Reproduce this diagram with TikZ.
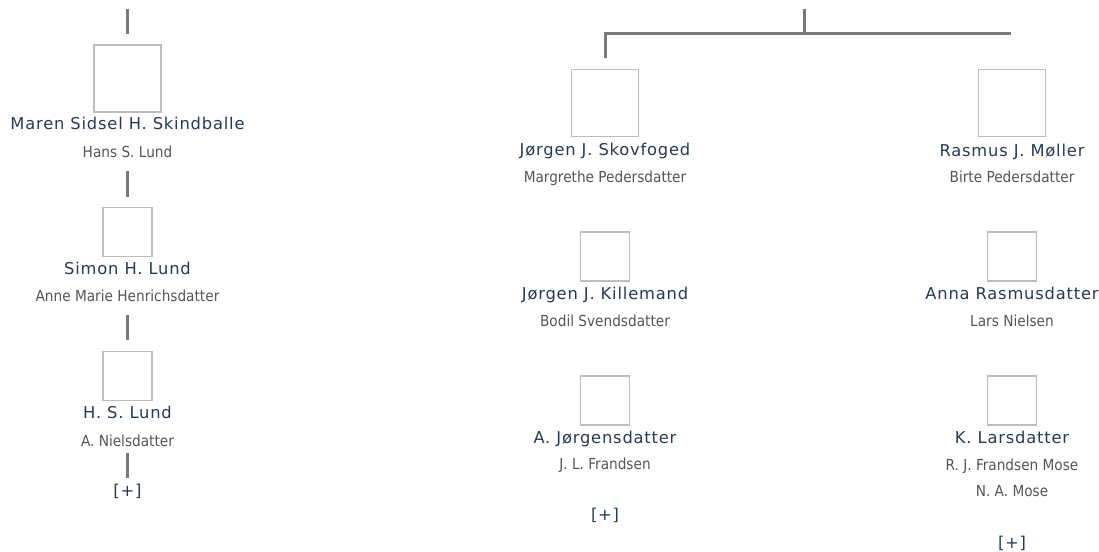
\documentclass[tikz,border=0pt]{standalone}
\usepackage{fontspec}
\setmainfont{DejaVu Sans}[LetterSpace=5]
\newfontfamily\spousefont{DejaVu Sans Condensed}
\definecolor{namecol}{HTML}{25395A}
\definecolor{spousecol}{HTML}{555555}
\definecolor{linecol}{HTML}{7A7A7A}
\definecolor{boxcol}{HTML}{BDBDBD}
\tikzset{
  photo/.style={draw=boxcol, line width=1.6pt, minimum size=67pt, inner sep=0pt},
  smallphoto/.style={photo, minimum size=49pt},
  person/.style={text=namecol, inner sep=0pt, text height=11.9pt, text depth=0pt,
    font=\fontsize{16.3}{16}\selectfont},
  spouse/.style={text=spousecol, inner sep=0pt, text height=11pt, text depth=0pt,
    font=\spousefont\fontsize{15.2}{15}\selectfont},
  more/.style={person},
  link/.style={draw=linecol, line width=3pt}
}
\begin{document}
\begin{tikzpicture}[x=1pt,y=-1pt]
      \useasboundingbox (0,0) rectangle (1099,551);
      \draw
        (127.5,9) coordinate (up0)
        (127.5,78.5) node[photo] (p0){}
        (127.5,124) node[person] (n0){Maren Sidsel H. Skindballe}
        (127.5,152) node[spouse] (s0){Hans S. Lund}
        (127.5,232) node[smallphoto] (p1){}
        (127.5,269) node[person] (n1){Simon H. Lund}
        (127.5,296) node[spouse] (s1){Anne Marie Henrichsdatter}
        (127.5,376) node[smallphoto] (p2){}
        (127.5,413) node[person] (n2){H. S. Lund}
        (127.5,441) node[spouse] (s2){A. Nielsdatter}
        (127.5,491) node[more] (m0){[+]};
      \draw
        (804,9) coordinate (up1)
        (804,34) coordinate (fork)
        (1011,34) coordinate (forkr)
        (605,103) node[photo] (q0){}
        (605,150) node[person] (o0){Jørgen J. Skovfoged}
        (605,177) node[spouse] (t0){Margrethe Pedersdatter}
        (605,256.5) node[smallphoto] (q1){}
        (605,294) node[person] (o1){Jørgen J. Killemand}
        (605,321) node[spouse] (t1){Bodil Svendsdatter}
        (605,400.5) node[smallphoto] (q2){}
        (605,438) node[person] (o2){A. Jørgensdatter}
        (605,464) node[spouse] (t2){J. L. Frandsen}
        (605,515) node[more] (m1){[+]};
      \draw
        (1012,103) node[photo] (r0){}
        (1012,151) node[person] (v0){Rasmus J. Møller}
        (1012,177) node[spouse] (w0){Birte Pedersdatter}
        (1012,256.5) node[smallphoto] (r1){}
        (1012,294) node[person] (v1){Anna Rasmusdatter}
        (1012,321) node[spouse] (w1){Lars Nielsen}
        (1012,400.5) node[smallphoto] (r2){}
        (1012,438) node[person] (v2){K. Larsdatter}
        (1012,465) node[spouse] (w2){R. J. Frandsen Mose}
        (1012,491) node[spouse] (w3){N. A. Mose}
        (1012,543) node[more] (m2){[+]};
      \begin{scope}[link]
        \draw[shorten >=10pt] (up0) to (p0.north);
        \draw[shorten <=13.5pt, shorten >=10pt] (s0.south) to (p1.north);
        \draw[shorten <=13.5pt, shorten >=11pt] (s1.south) to (p2.north);
        \draw[shorten <=6.5pt, shorten >=7pt] (s2.south) to (m0.north);
        \draw (up1) to (fork);
        \draw[shorten >=11pt] (forkr) -| (q0.north);
      \end{scope}
    \end{tikzpicture}
\end{document}
